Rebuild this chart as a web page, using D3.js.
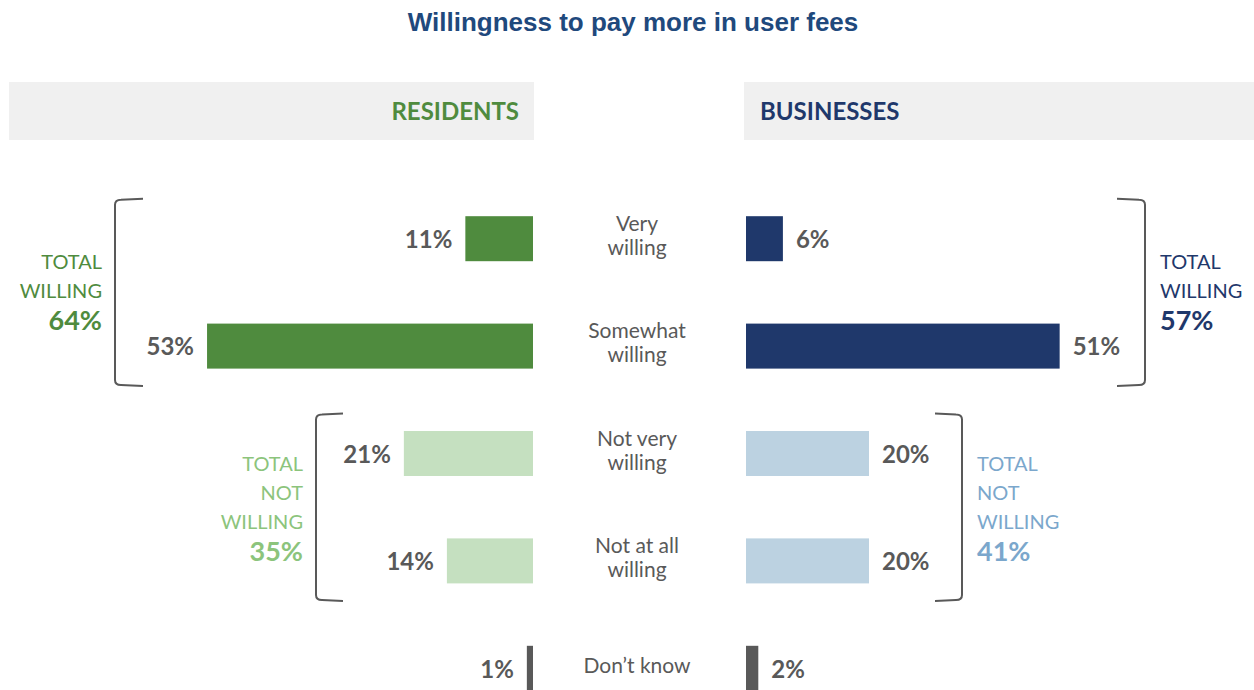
<!DOCTYPE html>
<html><head><meta charset="utf-8">
<script src="https://cdn.jsdelivr.net/npm/d3@7"></script>
<style>body{margin:0;background:#fff}svg{display:block}</style>
</head><body>
<svg id="c" width="1254" height="690"></svg>
<script>
const categories = [["Very","willing"],["Somewhat","willing"],["Not very","willing"],["Not at all","willing"],["Don\u2019t know"]];
const residents = [11, 53, 21, 14, 1];
const businesses = [6, 51, 20, 20, 2];
const groups = ["willing","willing","notWilling","notWilling","dk"];
const residentTotals = [{label:["TOTAL","WILLING"], value:"64%", rows:[0,1], key:"willing"},
                        {label:["TOTAL","NOT","WILLING"], value:"35%", rows:[2,3], key:"notWilling"}];
const businessTotals = [{label:["TOTAL","WILLING"], value:"57%", rows:[0,1], key:"willing"},
                        {label:["TOTAL","NOT","WILLING"], value:"41%", rows:[2,3], key:"notWilling"}];
const title = "Willingness to pay more in user fees";
const panelNames = ["RESIDENTS","BUSINESSES"];

const colR = {willing:"#4f8b3e", notWilling:"#c5e0c0", dk:"#595959"};
const colB = {willing:"#1f386b", notWilling:"#bcd2e1", dk:"#595959"};
const totR = {willing:"#4f8b3e", notWilling:"#8cc47c"};
const totB = {willing:"#1f386b", notWilling:"#7ba7cc"};
const grey = "#595959";
const font = "Lato, 'Open Sans', sans-serif";

const svg = d3.select("#c");
svg.append("text").attr("x",633).attr("y",31).attr("text-anchor","middle")
  .attr("font-family","'Liberation Sans', Arial, sans-serif").attr("font-weight","bold")
  .attr("font-size",26).attr("fill","#1f497d").text(title);

// header panels
svg.append("rect").attr("x",9).attr("y",82).attr("width",525).attr("height",58).attr("fill","#f0f0f0");
svg.append("rect").attr("x",744).attr("y",82).attr("width",510).attr("height",58).attr("fill","#f0f0f0");
svg.append("text").attr("x",519).attr("y",120).attr("text-anchor","end").attr("font-family",font)
  .attr("font-weight","bold").attr("font-size",24).attr("fill","#4f8b3e").text(panelNames[0]);
svg.append("text").attr("x",760).attr("y",120).attr("text-anchor","start").attr("font-family",font)
  .attr("font-weight","bold").attr("font-size",24).attr("fill","#1f386b").text(panelNames[1]);

const y = d3.scaleBand().domain(d3.range(categories.length)).range([185, 722]).paddingInner(0.58).paddingOuter(0.29);
const xR = d3.scaleLinear().domain([0,100]).range([533, 533-615]);
const xB = d3.scaleLinear().domain([0,100]).range([746, 746+615]);
const bh = 45;
const yc = i => y(i) + y.bandwidth()/2;

// bars
svg.append("g").selectAll("rect").data(residents).join("rect")
  .attr("x", d => xR(d)).attr("width", d => xR(0)-xR(d))
  .attr("y", (d,i) => yc(i)-bh/2).attr("height", bh)
  .attr("fill", (d,i) => colR[groups[i]]);
svg.append("g").selectAll("rect").data(businesses).join("rect")
  .attr("x", xB(0)).attr("width", d => xB(d)-xB(0))
  .attr("y", (d,i) => yc(i)-bh/2).attr("height", bh)
  .attr("fill", (d,i) => colB[groups[i]]);

// value labels
svg.append("g").selectAll("text").data(residents).join("text")
  .attr("x", d => xR(d)-13).attr("y", (d,i) => yc(i) + (i===4?10:9))
  .attr("text-anchor","end").attr("font-family",font).attr("font-weight","bold")
  .attr("font-size",24).attr("fill",grey).text(d => d+"%");
svg.append("g").selectAll("text").data(businesses).join("text")
  .attr("x", d => xB(d)+13).attr("y", (d,i) => yc(i) + (i===4?10:9))
  .attr("text-anchor","start").attr("font-family",font).attr("font-weight","bold")
  .attr("font-size",24).attr("fill",grey).text(d => d+"%");

// category labels
const cat = svg.append("g").selectAll("text").data(categories).join("text")
  .attr("x",637).attr("text-anchor","middle").attr("font-family",font)
  .attr("font-size",21).attr("fill",grey)
  .attr("y",(d,i) => d.length===2 ? yc(i)-8 : yc(i)+5);
cat.selectAll("tspan").data(d=>d).join("tspan").attr("x",637)
  .attr("dy",(d,j)=> j===0?0:24).text(d=>d);

// brackets
function bracket(xv, xe, y0, y1){
  const p = d3.path(); const r = 6; const dir = xe > xv ? 1 : -1;
  p.moveTo(xe, y0);
  p.lineTo(xv + dir*r, y0 + 1);
  p.quadraticCurveTo(xv, y0+1, xv, y0 + r);
  p.lineTo(xv, y1 - r);
  p.quadraticCurveTo(xv, y1-1, xv + dir*r, y1 - 1);
  p.lineTo(xe, y1);
  return p.toString();
}
const bracketStyle = s => s.attr("fill","none").attr("stroke",grey).attr("stroke-width",2);
const span = t => [yc(t.rows[0]) - 40, yc(t.rows[1]) + 40];

const bxR = {willing:[115,143], notWilling:[316,343]};
const bxB = {willing:[1145,1117], notWilling:[962,935]};

function totals(list, bx, cols, anchor, dx){
  list.forEach(t => {
    const [a,b] = span(t);
    svg.append("path").attr("d", bracket(bx[t.key][0], bx[t.key][1], a, b)).call(bracketStyle);
    const lines = t.label.concat([t.value]);
    const lh = 29; const mid = (a+b)/2 + (t.key==="willing"? -1 : 0);
    const start = mid - (lines.length-1)*lh/2;
    svg.append("g").selectAll("text").data(lines).join("text")
      .attr("x", bx[t.key][0]+dx).attr("y",(d,j)=> start + j*lh + (j===lines.length-1?3:0) + 7)
      .attr("text-anchor",anchor).attr("font-family",font)
      .attr("font-size",(d,j)=> j===lines.length-1?27:20)
      .attr("font-weight",(d,j)=> j===lines.length-1?"bold":"normal")
      .attr("fill", cols[t.key]).text(d=>d);
  });
}
totals(residentTotals, bxR, totR, "end", -13);
totals(businessTotals, bxB, totB, "start", 15);
</script>
</body></html>
